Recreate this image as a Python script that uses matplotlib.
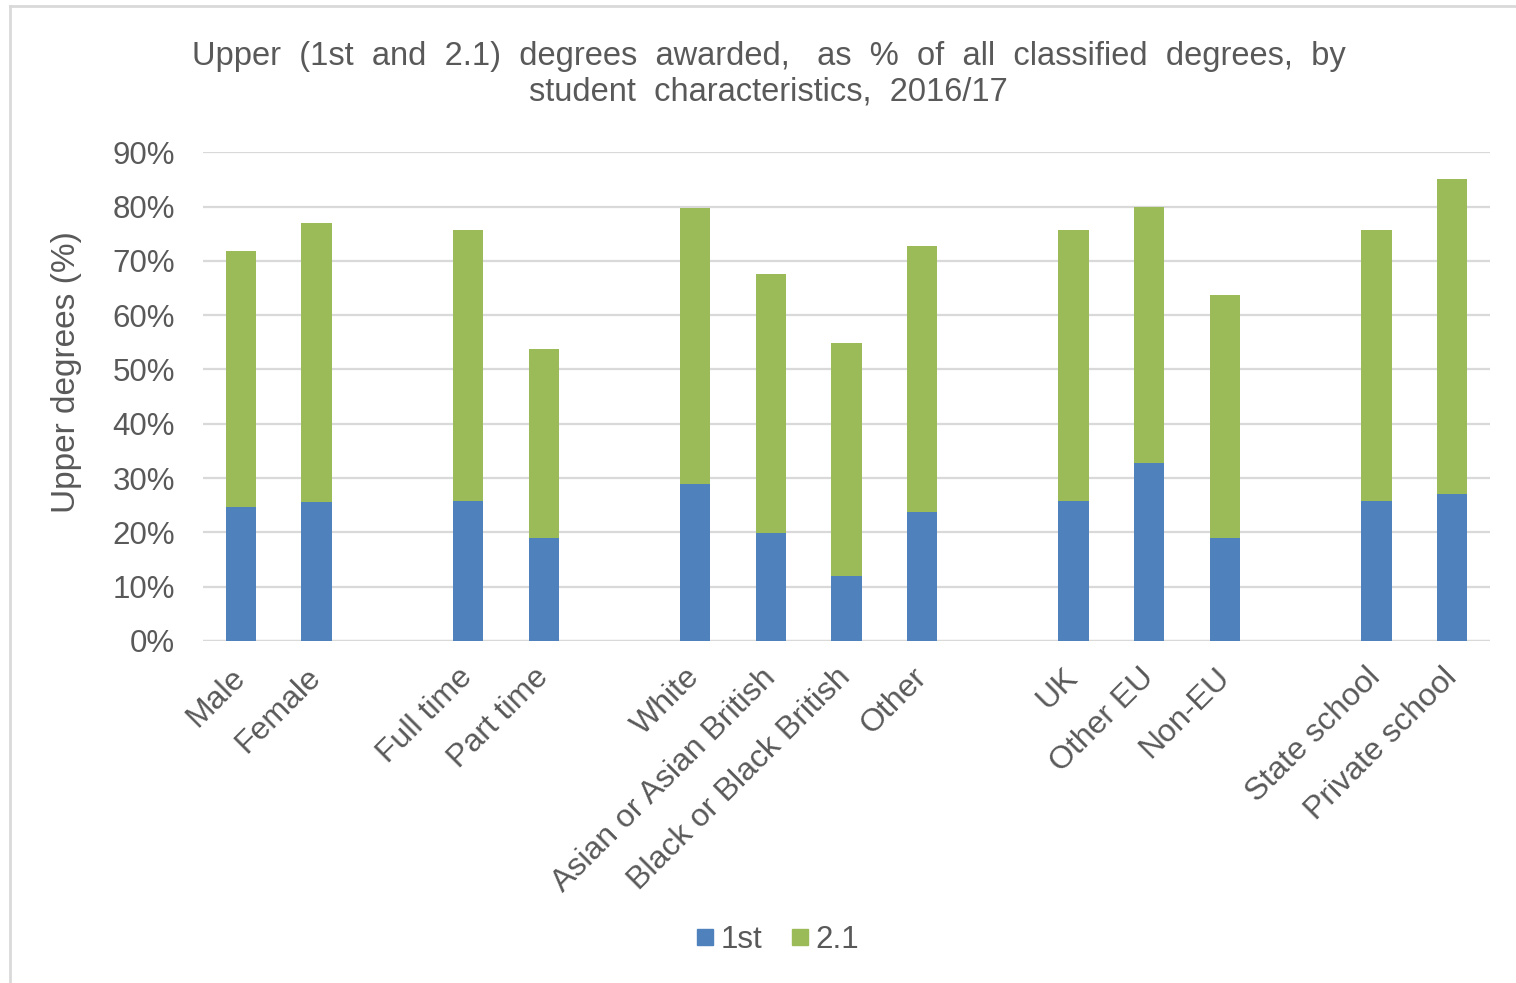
import matplotlib
matplotlib.use("Agg")
import matplotlib.pyplot as plt
from matplotlib.lines import Line2D
import numpy as np

plt.rcParams['font.family'] = ['Liberation Sans', 'DejaVu Sans']

# Categories, with blank slots separating the characteristic groups
categories = ["Male", "Female", "",
              "Full time", "Part time", "",
              "White", "Asian or Asian British", "Black or Black British", "Other", "",
              "UK", "Other EU", "Non-EU", "",
              "State school", "Private school"]

# Share of classified degrees (%), None for the blank separator slots
first_class = [24.7, 25.6, None,
               25.7, 19.0, None,
               28.9, 19.9, 12.0, 23.7, None,
               25.7, 32.7, 19.0, None,
               25.7, 27.0]
upper_second = [47.1, 51.4, None,
                49.9, 34.8, None,
                50.9, 47.6, 42.8, 49.0, None,
                49.9, 47.2, 44.8, None,
                49.9, 58.0]

series_names = ["1st", "2.1"]
y_ticks = [0, 10, 20, 30, 40, 50, 60, 70, 80, 90]

BLUE = "#4F81BD"
GREEN = "#9BBB59"
TEXT = "#595959"
GRID = "#D9D9D9"

fig = plt.figure(figsize=(15.16, 9.83), dpi=100)
ax = fig.add_axes([203 / 1516, 1 - 641 / 983, (1490 - 203) / 1516, (641 - 152.3) / 983])

x = np.arange(len(categories))
first_vals = np.array([np.nan if v is None else v for v in first_class])
second_vals = np.array([np.nan if v is None else v for v in upper_second])
mask = ~np.isnan(first_vals)

ax.bar(x[mask], first_vals[mask], width=0.4, color=BLUE, zorder=3)
ax.bar(x[mask], second_vals[mask], width=0.4, bottom=first_vals[mask], color=GREEN, zorder=3)

ax.set_xlim(-0.5, len(categories) - 0.5)
ax.set_ylim(0, 90)
ax.set_yticks(y_ticks)
ax.set_yticklabels([f"{t}%" for t in y_ticks], color=TEXT, fontsize=22.5)
ax.yaxis.grid(True, color=GRID, linewidth=1.6, zorder=0)
ax.tick_params(axis='y', length=0, pad=20)
ax.tick_params(axis='x', length=0, pad=23)
for s in ax.spines.values():
    s.set_visible(False)
ax.axhline(0, color=GRID, linewidth=1.6, zorder=2)

ax.set_xticks(x)
ax.set_xticklabels(categories, rotation=45, ha='right', va='center',
                   rotation_mode='anchor', color=TEXT, fontsize=23)

fig.text(0.507, 1 - 74 / 983,
         "Upper  (1st  and  2.1)  degrees  awarded,   as  %  of  all  classified  degrees,  by\n"
         "student  characteristics,  2016/17",
         ha='center', va='center', color=TEXT, fontsize=23.5, linespacing=1.2)
fig.text(67 / 1516, 1 - 372 / 983, "Upper degrees (%)", rotation=90,
         ha='center', va='center', color=TEXT, fontsize=24)

handles = [Line2D([], [], marker='s', linestyle='none', markersize=11, color=BLUE),
           Line2D([], [], marker='s', linestyle='none', markersize=11, color=GREEN)]
fig.legend(handles, series_names, loc='center', bbox_to_anchor=(776 / 1516, 1 - 940 / 983),
           ncol=2, frameon=False, fontsize=22.5, labelcolor=TEXT,
           handletextpad=0.1, columnspacing=0.8, handlelength=0.8)

# light frame on the top and left edges
fig.add_artist(Line2D([10 / 1516, 10 / 1516], [0, 1 - 6 / 983], transform=fig.transFigure,
                      color="#D9D9D9", linewidth=2))
fig.add_artist(Line2D([10 / 1516, 1], [1 - 6 / 983, 1 - 6 / 983], transform=fig.transFigure,
                      color="#D9D9D9", linewidth=2))

fig.savefig("out.png", dpi=100, facecolor="white")
